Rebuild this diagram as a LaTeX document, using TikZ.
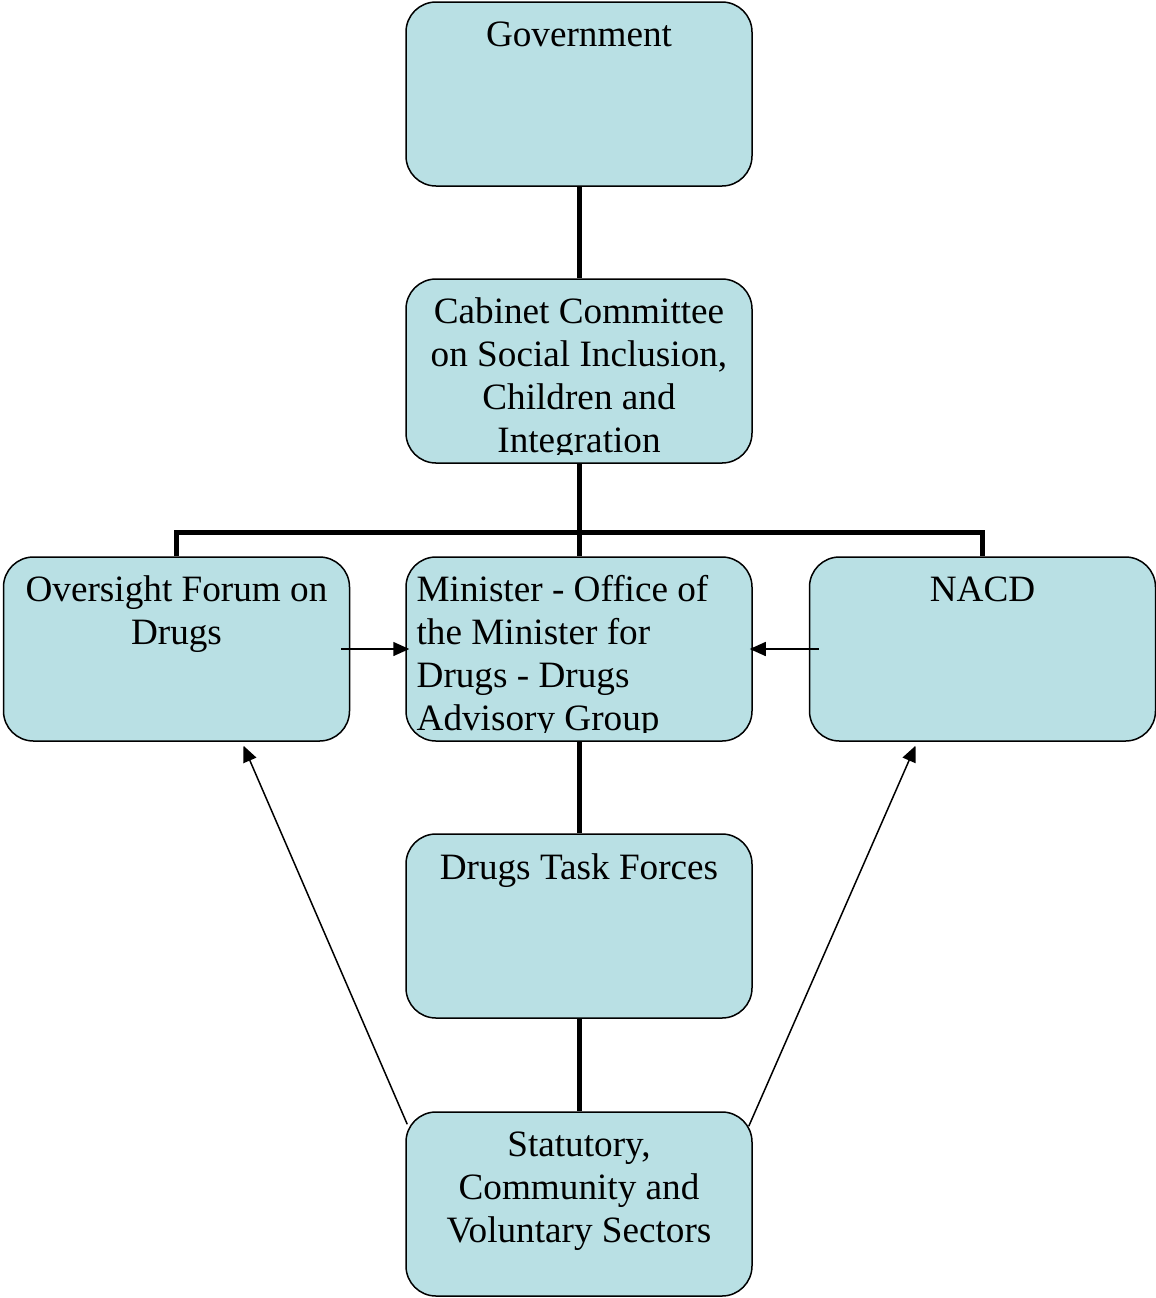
\documentclass[tikz,border=0pt]{standalone}
\usepackage{fontspec}
\setmainfont{Liberation Serif}
\usepackage{xcolor}
\usepackage{tikz}
\usetikzlibrary{arrows.meta, positioning, calc}
\definecolor{boxfill}{RGB}{185,224,228}
\tikzset{
    unit/.style={draw, fill=boxfill, rounded corners=15pt, line width=0.75pt,
        minimum width=173pt, minimum height=92pt},
    caption/.style={anchor=north, inner sep=0pt, align=center,
        font=\fontsize{18.6}{21.5}\selectfont, execute at begin node=\strut},
    trunk/.style={line width=2.5pt},
    feed/.style={-{Triangle[length=8pt,width=7pt]}, line width=0.75pt}
}

\begin{document}
\begin{tikzpicture}[x=0.5pt, y=-0.5pt]
    \useasboundingbox (0,0) rectangle (1156,1298);
    % Boxes
    \node[unit] (gov) at (579,94) {};
    \node[unit] (cab) at (579,371) {};
    \node[unit] (ofd) at (176.5,649) {};
    \node[unit] (min) at (579,649) {};
    \node[unit] (nacd) at (982.5,649) {};
    \node[unit] (dtf) at (579,926) {};
    \node[unit] (svs) at (579,1204) {};
    % Hierarchy
    \coordinate (bar) at (579,532);
    \draw[trunk] (gov) -- (cab);
    \draw[trunk] (cab) -- (min);
    \draw[trunk] (ofd.north) |- (bar) -| (nacd.north);
    \draw[trunk] (min) -- (dtf);
    \draw[trunk] (dtf) -- (svs);
    % Advice
    \draw[feed] ([xshift=-4.5pt]ofd.east) -- ([xshift=2pt]min.west);
    \draw[feed] ([xshift=5pt]nacd.west) -- ([xshift=-1.5pt]min.east);
    \draw[feed] ([shift={(1pt,-6.5pt)}]svs.north west) -- ([shift={(33.5pt,-2pt)}]ofd.south);
    \draw[feed] ([shift={(-2pt,-7.5pt)}]svs.north east) -- ([shift={(-33.5pt,-2pt)}]nacd.south);
    % Texts
    \node[caption] (govtext) at ([yshift=-7.5pt]gov.north) {Government};
    \node[caption] (ofdtext) at ([yshift=-9.5pt]ofd.north) {Oversight Forum on\\Drugs};
    \node[caption] (nacdtext) at ([yshift=-7.5pt]nacd.north) {NACD};
    \node[caption] (dtftext) at ([yshift=-8pt]dtf.north) {Drugs Task Forces};
    \node[caption] (svstext) at ([yshift=-10pt]svs.north) {Statutory,\\Community and\\Voluntary Sectors};
    \begin{scope}
        \clip ([yshift=4.5pt]cab.south west) rectangle (cab.north east);
        \node[caption] (cabtext) at ([yshift=-9.5pt]cab.north)
            {Cabinet Committee\\on Social Inclusion,\\Children and\\Integration};
    \end{scope}
    \begin{scope}
        \clip ([yshift=4.5pt]min.south west) rectangle (min.north east);
        \node[caption, anchor=north west, align=left] (mintext) at ([shift={(5.5pt,-9.5pt)}]min.north west)
            {Minister - Office of\\the Minister for\\Drugs - Drugs\\Advisory Group};
    \end{scope}
\end{tikzpicture}
\end{document}
